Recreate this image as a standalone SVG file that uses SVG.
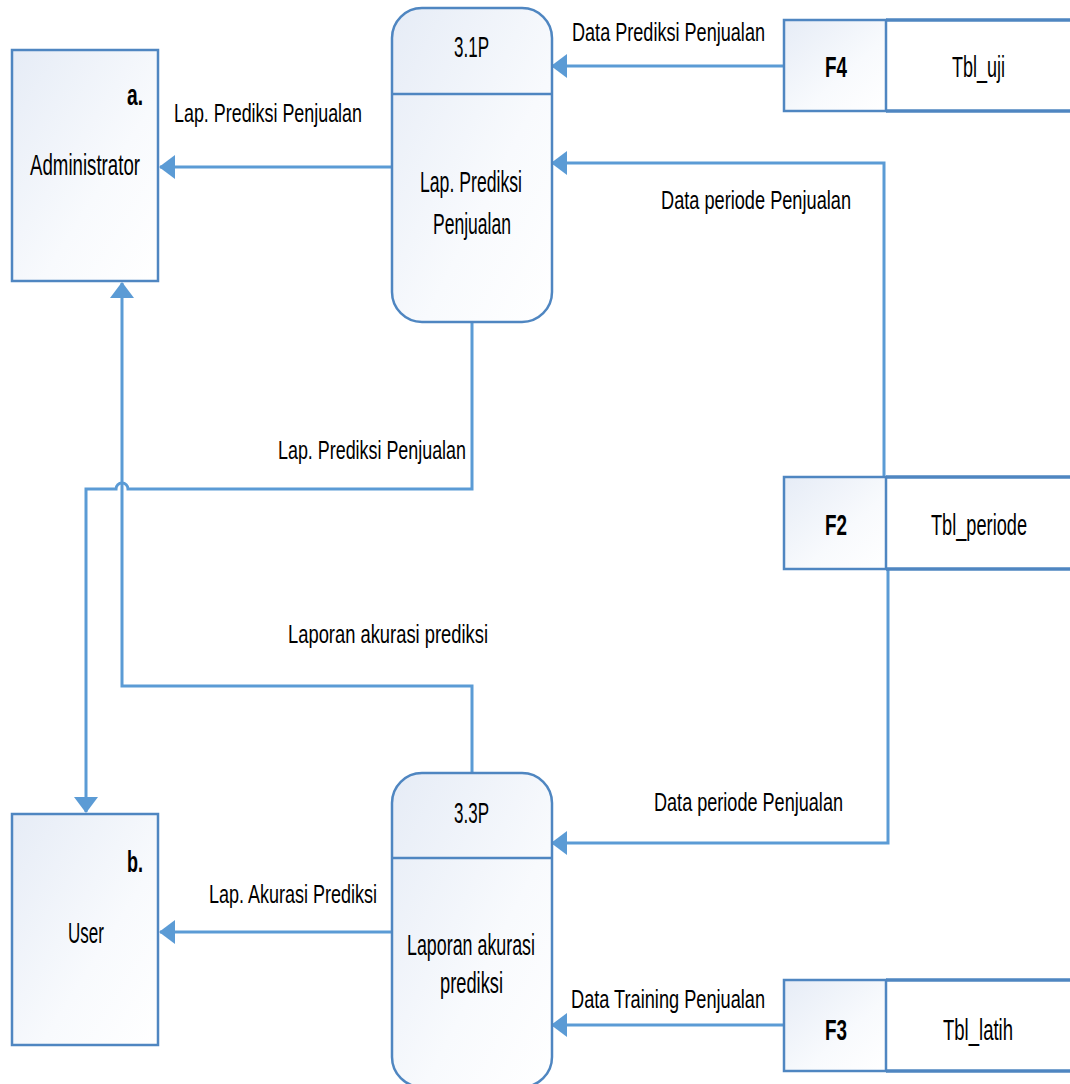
<svg xmlns="http://www.w3.org/2000/svg" width="1070" height="1084" viewBox="0 0 1070 1084">
<defs>
<linearGradient id="g" x1="0" y1="0" x2="1" y2="1">
<stop offset="0" stop-color="#e6ecf6"/>
<stop offset="0.6" stop-color="#f8fafd"/>
<stop offset="1" stop-color="#ffffff"/>
</linearGradient>
<marker id="ah" markerUnits="userSpaceOnUse" markerWidth="16" markerHeight="24" refX="15" refY="12" orient="auto">
<path d="M0,0 L16,12 L0,24 Z" fill="#5b9bd5"/>
</marker>
<style>
text{font-family:"Liberation Sans",Arial,sans-serif;font-size:26px;fill:#000}
.n{font-size:30px}
.b{font-weight:bold;font-size:29px}
.box{fill:url(#g);stroke:#4f86c1;stroke-width:2.5}
.ln{fill:none;stroke:#5b9bd5;stroke-width:3}
.st{fill:none;stroke:#4f86c1;stroke-width:3.5}
</style>
</defs>
<rect width="1070" height="1084" fill="#fff"/>
<g id="connectors">
<path class="ln" d="M784,66 H552" marker-end="url(#ah)"/>
<path class="ln" d="M884,477 V163 H552" marker-end="url(#ah)"/>
<path class="ln" d="M392,167 H160" marker-end="url(#ah)"/>
<path class="ln" d="M472,322 V489 H128 A6,6 0 0 0 116,489 H86 V812" marker-end="url(#ah)"/>
<path class="ln" d="M472,773 V686 H122 V283" marker-end="url(#ah)"/>
<path class="ln" d="M888,569 V843 H552" marker-end="url(#ah)"/>
<path class="ln" d="M392,932 H160" marker-end="url(#ah)"/>
<path class="ln" d="M784,1025 H552" marker-end="url(#ah)"/>
<text x="572" y="41" textLength="193" lengthAdjust="spacingAndGlyphs">Data Prediksi Penjualan</text>
<text x="174" y="122" textLength="188" lengthAdjust="spacingAndGlyphs">Lap. Prediksi Penjualan</text>
<text x="661" y="209" textLength="190" lengthAdjust="spacingAndGlyphs">Data periode Penjualan</text>
<text x="278" y="459" textLength="188" lengthAdjust="spacingAndGlyphs">Lap. Prediksi Penjualan</text>
<text x="288" y="643" textLength="200" lengthAdjust="spacingAndGlyphs">Laporan akurasi prediksi</text>
<text x="654" y="811" textLength="189" lengthAdjust="spacingAndGlyphs">Data periode Penjualan</text>
<text x="209" y="903" textLength="168" lengthAdjust="spacingAndGlyphs">Lap. Akurasi Prediksi</text>
<text x="571" y="1008" textLength="194" lengthAdjust="spacingAndGlyphs">Data Training Penjualan</text>
</g>
<g id="admin">
<rect class="box" x="12" y="50" width="146" height="231"/>
<text class="b" x="127" y="105" textLength="16" lengthAdjust="spacingAndGlyphs">a.</text>
<text class="n" x="30" y="175" textLength="110" lengthAdjust="spacingAndGlyphs">Administrator</text>
</g>
<g id="user">
<rect class="box" x="12" y="814" width="146" height="231"/>
<text class="b" x="127" y="872" textLength="16" lengthAdjust="spacingAndGlyphs">b.</text>
<text class="n" x="68" y="943" textLength="36" lengthAdjust="spacingAndGlyphs">User</text>
</g>
<g id="p31">
<rect class="box" x="392" y="8" width="160" height="314" rx="30"/>
<line x1="392" y1="94" x2="552" y2="94" stroke="#4f86c1" stroke-width="2.5"/>
<text class="n" x="454" y="57" textLength="35" lengthAdjust="spacingAndGlyphs">3.1P</text>
<text class="n" x="420" y="192" textLength="102" lengthAdjust="spacingAndGlyphs">Lap. Prediksi</text>
<text class="n" x="433" y="234" textLength="78" lengthAdjust="spacingAndGlyphs">Penjualan</text>
</g>
<g id="p33">
<rect class="box" x="392" y="773" width="160" height="314" rx="30"/>
<line x1="392" y1="858" x2="552" y2="858" stroke="#4f86c1" stroke-width="2.5"/>
<text class="n" x="454" y="823" textLength="35" lengthAdjust="spacingAndGlyphs">3.3P</text>
<text class="n" x="407" y="955" textLength="128" lengthAdjust="spacingAndGlyphs">Laporan akurasi</text>
<text class="n" x="440" y="993" textLength="63" lengthAdjust="spacingAndGlyphs">prediksi</text>
</g>
<g id="f4">
<rect class="box" x="784" y="20" width="102" height="91"/>
<path class="st" d="M886,20 H1070 M886,111 H1070"/>
<text class="b" x="825" y="77" textLength="22" lengthAdjust="spacingAndGlyphs">F4</text>
<text class="n" x="952" y="77" textLength="53" lengthAdjust="spacingAndGlyphs">Tbl_uji</text>
</g>
<g id="f2">
<rect class="box" x="784" y="477" width="102" height="92"/>
<path class="st" d="M886,477 H1070 M886,569 H1070"/>
<text class="b" x="825" y="535" textLength="22" lengthAdjust="spacingAndGlyphs">F2</text>
<text class="n" x="931" y="535" textLength="96" lengthAdjust="spacingAndGlyphs">Tbl_periode</text>
</g>
<g id="f3">
<rect class="box" x="784" y="980" width="102" height="91"/>
<path class="st" d="M886,980 H1070 M886,1071 H1070"/>
<text class="b" x="825" y="1040" textLength="22" lengthAdjust="spacingAndGlyphs">F3</text>
<text class="n" x="943" y="1040" textLength="70" lengthAdjust="spacingAndGlyphs">Tbl_latih</text>
</g>
</svg>
